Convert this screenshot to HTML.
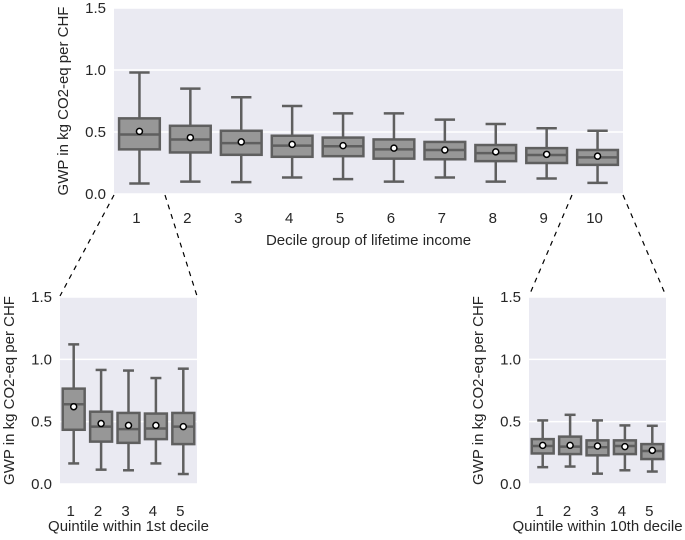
<!DOCTYPE html>
<html><head><meta charset="utf-8">
<style>
body{margin:0;background:#fff;width:685px;height:535px;overflow:hidden;font-family:"Liberation Sans",sans-serif;}
svg text{font-family:"Liberation Sans",sans-serif;fill:#262626;}
</style></head>
<body>
<svg id="chart" width="685" height="535" viewBox="0 0 685 535" xmlns="http://www.w3.org/2000/svg"></svg>
<script>
// Main chart: decile groups
const decileCats = ["1","2","3","4","5","6","7","8","9","10"];
const decileWhiskLo = [0.085,0.10,0.096,0.133,0.12,0.10,0.133,0.10,0.125,0.09];
const decileQ1 = [0.36,0.335,0.316,0.30,0.305,0.285,0.28,0.265,0.25,0.235];
const decileMed = [0.48,0.44,0.41,0.39,0.385,0.36,0.355,0.33,0.315,0.295];
const decileQ3 = [0.61,0.55,0.51,0.47,0.455,0.44,0.42,0.395,0.37,0.355];
const decileWhiskHi = [0.98,0.85,0.78,0.71,0.65,0.65,0.60,0.565,0.53,0.51];
const decileMean = [0.505,0.455,0.42,0.40,0.39,0.37,0.355,0.34,0.32,0.305];
// Left inset: quintiles within 1st decile
const q1Cats = ["1","2","3","4","5"];
const q1WhiskLo = [0.165,0.115,0.11,0.165,0.08];
const q1Q1 = [0.435,0.34,0.33,0.36,0.32];
const q1Med = [0.64,0.46,0.44,0.445,0.46];
const q1Q3 = [0.765,0.58,0.57,0.565,0.57];
const q1WhiskHi = [1.12,0.915,0.91,0.85,0.925];
const q1Mean = [0.62,0.485,0.47,0.47,0.46];
// Right inset: quintiles within 10th decile
const q10Cats = ["1","2","3","4","5"];
const q10WhiskLo = [0.135,0.14,0.083,0.11,0.10];
const q10Q1 = [0.245,0.24,0.23,0.24,0.20];
const q10Med = [0.305,0.30,0.295,0.305,0.265];
const q10Q3 = [0.36,0.38,0.35,0.35,0.32];
const q10WhiskHi = [0.51,0.555,0.51,0.47,0.467];
const q10Mean = [0.31,0.31,0.305,0.30,0.27];
const yTicks = [0.0,0.5,1.0,1.5];

const NS="http://www.w3.org/2000/svg";
const svg=document.getElementById('chart');
function mk(tag,attrs,parent){const e=document.createElementNS(NS,tag);for(const k in attrs)e.setAttribute(k,attrs[k]);(parent||svg).appendChild(e);return e;}

function panel(name,x0,x1,y0,y1,cats,lo,q1,med,q3,hi,mean,xlabel,labelX,xlabelY,tickY){
  const g=mk('g',{});
  
  
  const yS=v=>y0-(v/1.5)*(y0-y1);
  const bw=(x1-x0)/cats.length;
  const xS=i=>x0+bw*(i+0.5);
  const bg=mk('rect',{x:x0,y:y1,width:x1-x0,height:y0-y1,fill:'#eaeaf2'},g);
  
  
  yTicks.forEach(t=>{
    const gl=mk('line',{x1:x0,x2:x1,y1:yS(t),y2:yS(t),stroke:'#fff','stroke-width':1.5},g);
    
    
    const tl=mk('text',{x:x0-8,y:yS(t)+5,'text-anchor':'end','font-size':15},g);
    tl.textContent=t.toFixed(1);
    
    
  });
  cats.forEach((c,i)=>{
    const cx=xS(i),w=bw*0.8;
    const bx=mk('g',{},g);
    
    
    const st={stroke:'#5f5f5f','stroke-width':2.5};
    mk('line',Object.assign({x1:cx,x2:cx,y1:yS(hi[i]),y2:yS(q3[i])},st),bx);
    mk('line',Object.assign({x1:cx,x2:cx,y1:yS(q1[i]),y2:yS(lo[i])},st),bx);
    mk('line',Object.assign({x1:cx-w/4,x2:cx+w/4,y1:yS(hi[i]),y2:yS(hi[i])},st),bx);
    mk('line',Object.assign({x1:cx-w/4,x2:cx+w/4,y1:yS(lo[i]),y2:yS(lo[i])},st),bx);
    mk('rect',Object.assign({x:cx-w/2,y:yS(q3[i]),width:w,height:yS(q1[i])-yS(q3[i]),fill:'#979797'},st),bx);
    mk('line',Object.assign({x1:cx-w/2,x2:cx+w/2,y1:yS(med[i]),y2:yS(med[i])},st),bx);
    mk('circle',{cx:cx,cy:yS(mean[i]),r:3,fill:'#fff',stroke:'#000','stroke-width':1.5},bx);
    const tl=mk('text',{x:cx-3,y:tickY,'text-anchor':'middle','font-size':15},g);
    tl.textContent=c;
    
    
  });
  const xl=mk('text',{x:(x0+x1)/2,y:xlabelY,'text-anchor':'middle','font-size':15},g);
  xl.textContent=xlabel;
  
  
  const yl=mk('text',{x:0,y:0,'text-anchor':'middle','font-size':15,transform:`translate(${labelX},${(y0+y1)/2}) rotate(-90)`},g);
  yl.textContent='GWP in kg CO2-eq per CHF';
  
  
}

panel('main-decile-chart',114,623,194,8,decileCats,decileWhiskLo,decileQ1,decileMed,decileQ3,decileWhiskHi,decileMean,'Decile group of lifetime income',68,245,223);
panel('inset-1st-decile',60,197,484,297,q1Cats,q1WhiskLo,q1Q1,q1Med,q1Q3,q1WhiskHi,q1Mean,'Quintile within 1st decile',14,531,516);
panel('inset-10th-decile',529,666,484,297,q10Cats,q10WhiskLo,q10Q1,q10Med,q10Q3,q10WhiskHi,q10Mean,'Quintile within 10th decile',483,531,516);

[[114,195,60,296],[165,195,197,296],[572,195,529,296],[623,195,666,296]].forEach(p=>{
  const l=mk('line',{x1:p[0],y1:p[1],x2:p[2],y2:p[3],stroke:'#000','stroke-width':1.2,'stroke-dasharray':'5,5'});
  
  
});
</script>
</body></html>
